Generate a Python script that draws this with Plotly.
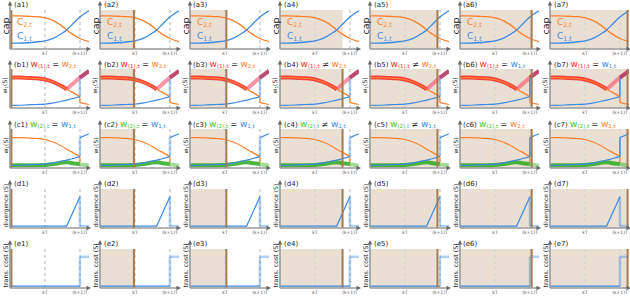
import plotly.graph_objects as go

# ---------------- data ----------------
tick_vals = [1, 2]
tick_text = ["kT", "(k+1)T"]
row_letters = ["a", "b", "c", "d", "e"]
state_pos = [0.04, 0.97, 1.04, 1.79, 1.93, 2.05, 2.22]   # position of the brown marker per column
row_labels = ["cap", "w<sub>1</sub>(S)", "w<sub>1</sub>(S)", "divergence (S)", "trans. cost (S)"]

# row a : capacities
t_cap = [0.0, 0.25, 0.5, 0.75, 1.0, 1.25, 1.5, 1.62, 1.75, 2.0, 2.26]
cap_c2 = [0.85, 0.85, 0.84, 0.83, 0.80, 0.72, 0.58, 0.49, 0.40, 0.27, 0.19]
cap_c1 = [0.15, 0.15, 0.16, 0.18, 0.21, 0.28, 0.41, 0.49, 0.60, 0.82, 0.98]

# rows b, c : wealth
t_w = [0.0, 0.25, 0.5, 0.75, 1.0, 1.25, 1.5, 1.62, 1.75, 2.0]
w2 = [0.78, 0.78, 0.77, 0.76, 0.73, 0.66, 0.55, 0.48, 0.42, 0.29]
w1 = [0.07, 0.07, 0.08, 0.09, 0.10, 0.13, 0.18, 0.20, 0.23, 0.29]
t_w2_after = [2.0, 2.0, 2.1, 2.26]
w2_after = [0.29, 0.14, 0.12, 0.09]
t_red_rise = [1.62, 2.0]
red_rise = [0.48, 0.78]
t_red_after = [2.0, 2.26]
red_after = [0.78, 0.95]
t_jump = [2.0, 2.0]
w1_jump = [0.29, 0.78]
t_w1_after = [2.0, 2.26]
w1_after = [0.78, 0.88]
t_w2_drop = [2.0, 2.0]
w2_drop = [0.29, 0.15]
t_green = [0.0, 0.5, 1.0, 1.25, 1.5, 1.62, 1.75, 2.0]
green = [0.07, 0.07, 0.08, 0.10, 0.14, 0.15, 0.13, 0.10]
t_green_after = [2.0, 2.26]
green_after = [0.10, 0.06]

# row d : divergence
t_div = [0.0, 1.62, 2.0]
div = [0.05, 0.05, 0.80]
div_drop = [0.80, 0.05]
t_div_after = [2.0, 2.26]
div_after = [0.05, 0.05]

# row e : transaction cost
t_cost = [0.0, 2.0]
cost = [0.05, 0.05]
cost_jump = [0.05, 0.80]
t_cost_after = [2.0, 2.26]
cost_after = [0.80, 0.80]

b_rel = ["=", "=", "=", "≠", "≠", "=", "="]
b_rhs = ["2", "2", "2", "2", "2", "1", "1"]
c_rel = ["=", "=", "=", "≠", "≠", "=", "="]
c_rhs = ["1", "1", "1", "1", "1", "2", "2"]

# ---------------- layout constants ----------------
FIG_W, FIG_H = 630, 300
COL_LEFT = [10, 100, 190, 280, 370, 460, 550]
PANEL_W = 79
ROW_BOTTOM = [49, 108, 168, 228, 288]
PANEL_H = 39
X_MAX = 2.26

ORANGE = "#ff7f2a"
BLUE = "#3d8ae4"
LIGHT_BLUE = "rgba(61,138,228,0.40)"
RED = "rgba(255,35,35,0.85)"
PINK = "rgba(255,60,90,0.55)"
CRIMSON = "rgba(175,30,80,0.80)"
GREEN = "rgba(45,170,30,0.85)"
LIGHT_GREEN = "rgba(70,180,40,0.50)"
SHADE = "#e9dfd2"
BROWN = "#a67b4c"
AXIS = "#9a9a9a"
FONT = "DejaVu Sans"

COLOR_W = {"1": BLUE, "2": ORANGE}


def px_x(p):
    return p / FIG_W


def px_y(p):
    return 1 - p / FIG_H


fig = go.Figure()
axes = {}
shapes = []
annotations = []


def line(xs, ys, color, width, xa, ya, shape="spline"):
    fig.add_trace(go.Scatter(x=xs, y=ys, mode="lines", xaxis=xa, yaxis=ya,
                             line=dict(color=color, width=width, shape=shape),
                             hoverinfo="skip", showlegend=False))


def pline(x0, y0, x1, y1, color, width):
    shapes.append(dict(type="line", xref="paper", yref="paper",
                       x0=px_x(x0), y0=px_y(y0), x1=px_x(x1), y1=px_y(y1),
                       line=dict(color=color, width=width), layer="above"))


def tri(points, color):
    path = "M " + " L ".join("%f,%f" % (px_x(a), px_y(b)) for a, b in points) + " Z"
    shapes.append(dict(type="path", xref="paper", yref="paper", path=path,
                       fillcolor=color, line=dict(width=0), layer="above"))


def wtitle(lhs_color, lhs_sub, rel, rhs_color, rhs_sub):
    return ("<span style='color:%s;font-size:9px'>w</span>"
            "<sub><span style='color:%s;font-size:5.5px'>%s</span></sub>"
            "<span style='font-size:8px'> %s </span>"
            "<span style='color:%s;font-size:9px'>w</span>"
            "<sub><span style='color:%s;font-size:5.5px'>%s</span></sub>") % (
        lhs_color, lhs_color, lhs_sub, rel, rhs_color, rhs_color, rhs_sub)


for r in range(5):
    B = ROW_BOTTOM[r]
    T = B - PANEL_H
    for c in range(7):
        n = r * 7 + c + 1
        sfx = "" if n == 1 else str(n)
        xa, ya = "x" + sfx, "y" + sfx
        L = COL_LEFT[c]
        axes["xaxis" + sfx] = dict(domain=[px_x(L), px_x(L + PANEL_W)], range=[0, X_MAX], anchor=ya,
                                   showgrid=False, zeroline=False, showline=False, automargin=False,
                                   tickvals=tick_vals, ticktext=tick_text, ticks="",
                                   tickfont=dict(size=4.5, color="#555", family=FONT))
        axes["yaxis" + sfx] = dict(domain=[px_y(B), px_y(T)], range=[0, 1], anchor=xa, automargin=False,
                                   showgrid=False, zeroline=False, showline=False, showticklabels=False,
                                   ticks="")

        s = state_pos[c]
        ydom = ya + " domain"
        if c > 0:
            shapes.append(dict(type="rect", xref=xa, yref=ydom, x0=0, x1=s, y0=0, y1=1,
                               fillcolor=SHADE, line=dict(width=0), layer="below"))
        for tv in tick_vals:
            shapes.append(dict(type="line", xref=xa, yref=ydom, x0=tv, x1=tv, y0=0, y1=1,
                               line=dict(color="#d9d9d9", width=2, dash="dot"), layer="below"))

        # curves
        if r == 0:
            line(t_cap, cap_c2, ORANGE, 1.3, xa, ya)
            line(t_cap, cap_c1, BLUE, 1.3, xa, ya)
        elif r == 1:
            k = t_w.index(1.62)
            line(t_w[:k + 1], w2[:k + 1], RED, 4, xa, ya)
            line(t_red_rise, red_rise, PINK, 4, xa, ya, "linear")
            line(t_red_after, red_after, CRIMSON, 4, xa, ya, "linear")
            line(t_jump, w1_jump, BLUE if c >= 5 else LIGHT_BLUE, 2.5 if c < 5 else 1.5, xa, ya, "linear")
            line(t_w, w2, ORANGE, 1.2, xa, ya)
            line(t_w2_after, w2_after, ORANGE, 1.2, xa, ya, "linear")
            line(t_w, w1, BLUE, 1.2, xa, ya)
        elif r == 2:
            line(t_green, green, GREEN, 4, xa, ya)
            line(t_green_after, green_after, LIGHT_GREEN, 4, xa, ya, "linear")
            line(t_w, w2, ORANGE, 1.2, xa, ya)
            line(t_w2_drop, w2_drop, ORANGE, 1.2, xa, ya, "linear")
            line(t_w, w1, BLUE, 1.2, xa, ya)
            line(t_jump, w1_jump, BLUE if c >= 5 else LIGHT_BLUE, 2.5 if c < 5 else 1.5, xa, ya, "linear")
            line(t_w1_after, w1_after, BLUE, 1.2, xa, ya, "linear")
        elif r == 3:
            line(t_div, div, BLUE, 1.2, xa, ya, "linear")
            line(t_jump, div_drop, LIGHT_BLUE, 2.5, xa, ya, "linear")
            line(t_div_after, div_after, LIGHT_BLUE, 2.5, xa, ya, "linear")
        else:
            line(t_cost, cost, BLUE, 1.2, xa, ya, "linear")
            line(t_jump, cost_jump, LIGHT_BLUE, 2.5, xa, ya, "linear")
            line(t_cost_after, cost_after, LIGHT_BLUE, 2.5, xa, ya, "linear")

        if not (r == 0 and c == 3):
            shapes.append(dict(type="line", xref=xa, yref=ydom, x0=s, x1=s, y0=0, y1=1,
                               line=dict(color=BROWN, width=2), layer="above"))

        # axes with arrows
        pline(L, B, L, T - 5, AXIS, 1.6)
        pline(L, B, L + PANEL_W - 2, B, AXIS, 1.6)
        tri([(L, T - 9), (L - 2.2, T - 4.5), (L + 2.2, T - 4.5)], "#666")
        tri([(L + PANEL_W + 2, B), (L + PANEL_W - 2.5, B - 2.2), (L + PANEL_W - 2.5, B + 2.2)], "#666")

        # panel title
        title = "(%s%d)" % (row_letters[r], c + 1)
        if r == 1:
            title += " " + wtitle("#ff2a2a", "(1),t", b_rel[c], COLOR_W[b_rhs[c]], b_rhs[c] + ",t")
        elif r == 2:
            title += " " + wtitle("#44c61d", "(2),t", c_rel[c], COLOR_W[c_rhs[c]], c_rhs[c] + ",t")
        annotations.append(dict(xref="paper", yref="paper", x=px_x(L + 1.5), y=px_y(T - 5),
                                xanchor="left", yanchor="middle", text=title, showarrow=False,
                                font=dict(size=7, color="#222", family=FONT)))

        # y label
        fsz = [9.5, 6, 6, 6, 6.3][r]
        annotations.append(dict(xref="paper", yref="paper", x=px_x(L - 5), y=px_y(T + PANEL_H / 2 - 3),
                                xanchor="center", yanchor="middle", textangle=-90, text=row_labels[r],
                                showarrow=False, font=dict(size=fsz, color="#222", family=FONT)))

        if r == 0:
            annotations.append(dict(xref=xa, yref=ya, x=0.13, y=0.69, xanchor="left", yanchor="middle",
                                    text="C<sub>2,t</sub>", showarrow=False,
                                    font=dict(size=9, color=ORANGE, family=FONT)))
            annotations.append(dict(xref=xa, yref=ya, x=0.13, y=0.31, xanchor="left", yanchor="middle",
                                    text="C<sub>1,t</sub>", showarrow=False,
                                    font=dict(size=9, color=BLUE, family=FONT)))

fig.update_layout(width=FIG_W, height=FIG_H, margin=dict(l=0, r=0, t=0, b=0, autoexpand=False),
                  paper_bgcolor="white", plot_bgcolor="white", showlegend=False, hovermode=False,
                  shapes=shapes, annotations=annotations, **axes)
fig.write_html("out.html", config={"displayModeBar": False, "staticPlot": True},
               post_script="document.body.style.margin='0';document.body.style.padding='0';")
